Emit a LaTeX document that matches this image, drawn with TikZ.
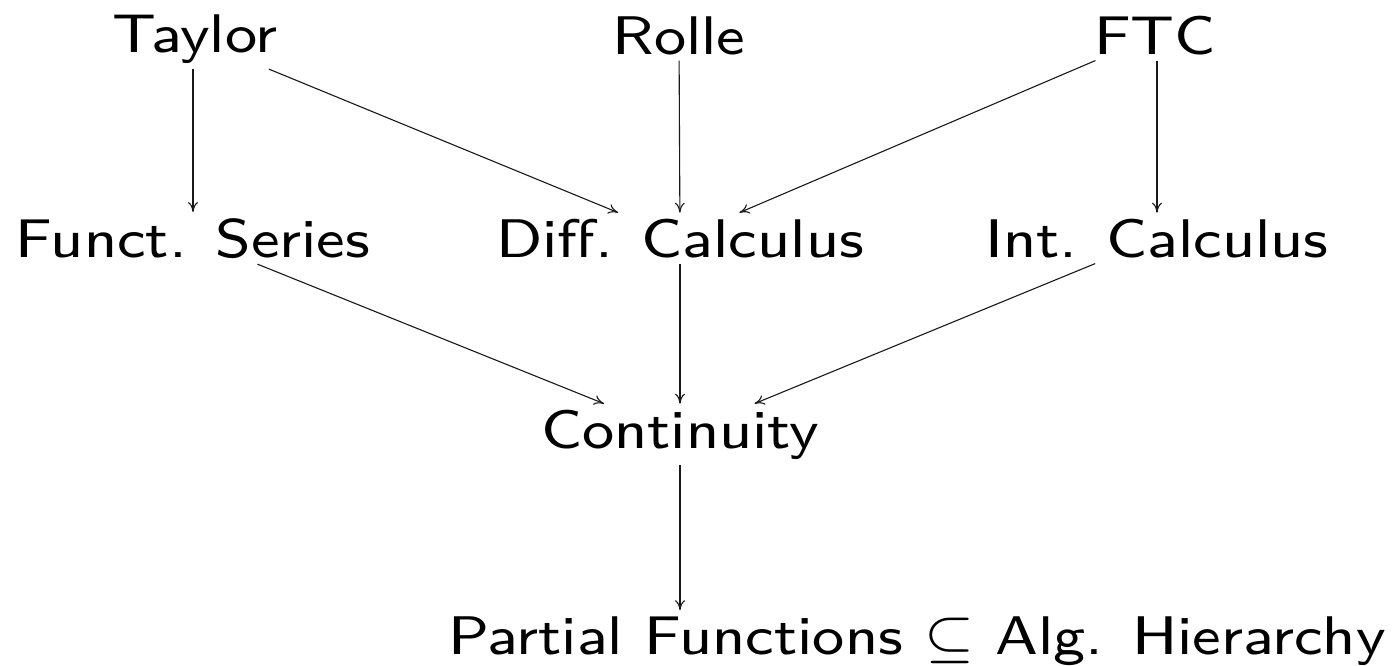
\documentclass[tikz,border=0pt]{standalone}
\usepackage{amssymb}
\usepackage{graphicx}
\usetikzlibrary{arrows.meta}
\newcommand\bigtxt[1]{\scalebox{7.56}[6.8]{\fontsize{8}{9}\selectfont\sffamily #1}}
\begin{document}
\begin{tikzpicture}[x=1pt,y=-1pt,
  lbl/.style={inner xsep=6pt, inner ysep=6pt, outer sep=0pt, anchor=base},
  arr/.style={-{To[length=10pt,width=10pt]}, line width=1.1pt, black!90}]
\useasboundingbox (0,0) rectangle (1393,665);
\node[lbl] (tay) at (195,52) {\bigtxt{Taylor}};
\node[lbl] (rol) at (679,54) {\bigtxt{Rolle}};
\node[lbl] (ftc) at (1155,54) {\bigtxt{FTC}};
\node[lbl] (fs) at (193,257) {\bigtxt{Funct. Series}};
\node[lbl] (dc) at (680,257) {\bigtxt{Diff. Calculus}};
\node[lbl] (ic) at (1157,257) {\bigtxt{Int. Calculus}};
\node[lbl] (co) at (680,448) {\bigtxt{Continuity}};
\node[lbl] (pf) at (917,654) {\bigtxt{Partial Functions $\subseteq$ Alg. Hierarchy}};
\draw[arr] (tay.south -| fs) -- (fs);
\draw[arr] (tay) -- (dc);
\draw[arr] (rol) -- (dc);
\draw[arr] (ftc) -- (dc);
\draw[arr] (ftc.south -| ic) -- (ic);
\draw[arr] (fs) -- (co);
\draw[arr] (dc) -- (co);
\draw[arr] (ic) -- (co);
\draw[arr] (co) -- (co |- pf.north);
\end{tikzpicture}
\end{document}
